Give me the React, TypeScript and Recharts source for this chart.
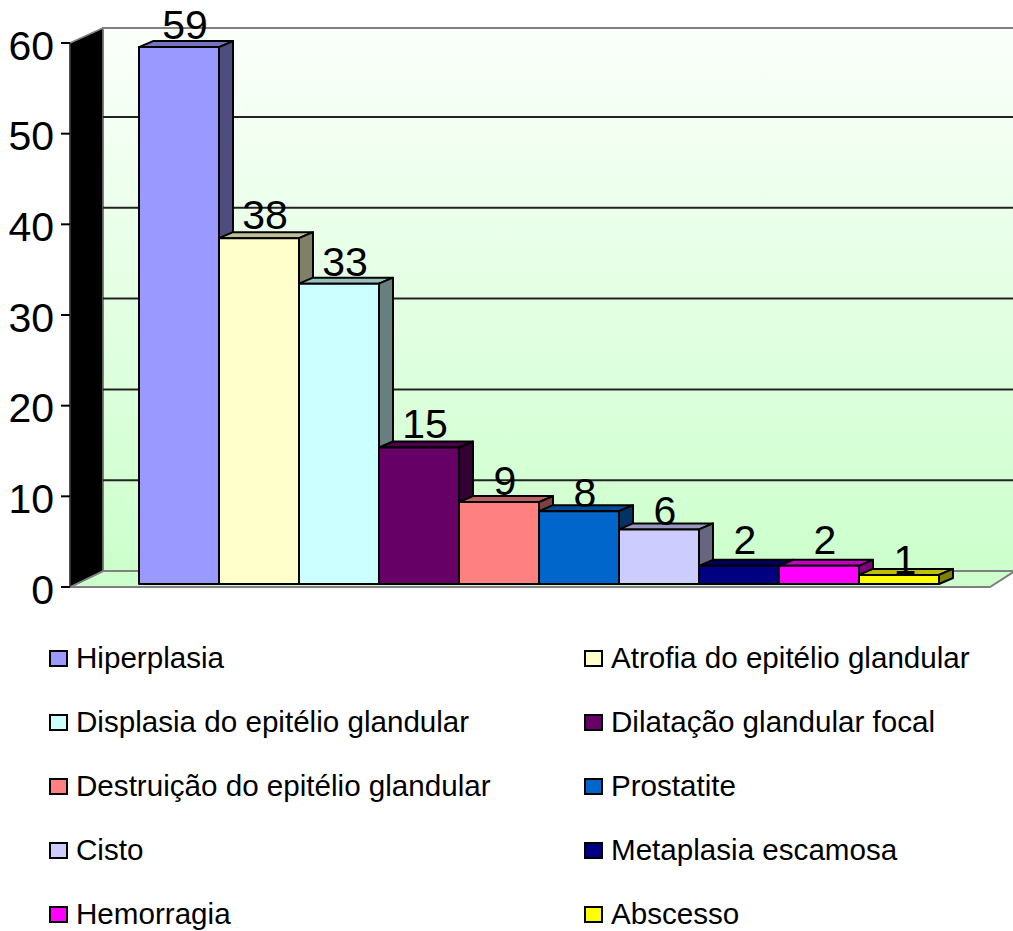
import React from 'react';
import { ComposedChart, Bar, Line, XAxis, YAxis, CartesianGrid, Legend, LabelList } from 'recharts';

const categories = [
  'Hiperplasia',
  'Atrofia do epitélio glandular',
  'Displasia do epitélio glandular',
  'Dilatação glandular focal',
  'Destruição do epitélio glandular',
  'Prostatite',
  'Cisto',
  'Metaplasia escamosa',
  'Hemorragia',
  'Abscesso',
];
const values = [59, 38, 33, 15, 9, 8, 6, 2, 2, 1];
const colors = [
  '#9999FF', '#FFFFCC', '#CCFFFF', '#660066', '#FF8080',
  '#0066CC', '#CCCCFF', '#000080', '#FF00FF', '#FFFF00',
];
const axisTicks = [0, 10, 20, 30, 40, 50, 60];
const wallTicks = [10, 20, 30, 40, 50];
// small per-series nudges for the value labels
const labelShift = [-1, -2, -1, -2, 0, 3, 3, -5, -5, 6];

const row: Record<string, number> = {};
categories.forEach((c, i) => { row[c] = values[i]; });
const data = [row];

const FONT = '"Liberation Sans", Arial, sans-serif';
const DEPTH_X = 14;
const DEPTH_Y = 6;

const shade = (hex: string, k: number) => {
  const n = parseInt(hex.slice(1), 16);
  const ch = (v: number) => Math.round(v * k);
  return `rgb(${ch((n >> 16) & 255)},${ch((n >> 8) & 255)},${ch(n & 255)})`;
};

// front face plus the lit top and darker side of an extruded column
const Column = (props: any) => {
  const { x, y, width, height, fill } = props;
  const r = x + width;
  const b = y + height;
  return (
    <g stroke="#000" strokeWidth={2} strokeLinejoin="round">
      <polygon
        points={`${x},${y} ${x + DEPTH_X},${y - DEPTH_Y} ${r + DEPTH_X},${y - DEPTH_Y} ${r},${y}`}
        fill={shade(fill, 0.75)}
      />
      <polygon
        points={`${r},${y} ${r + DEPTH_X},${y - DEPTH_Y} ${r + DEPTH_X},${b - DEPTH_Y} ${r},${b}`}
        fill={shade(fill, 0.5)}
      />
      <rect x={x} y={y} width={width} height={height} fill={fill} />
    </g>
  );
};

const ValueLabel = (props: any) => {
  const { x, y, width, value, shift } = props;
  return (
    <text x={x + width / 2 + 6} y={y - 7 + shift} textAnchor="middle" fontSize={41} fontFamily={FONT} fill="#000">
      {value}
    </text>
  );
};

const LegendGrid = ({ payload }: any) => (
  <div
    style={{
      display: 'grid',
      gridTemplateColumns: '535px 1fr',
      gridAutoRows: '64px',
      paddingLeft: 49,
      fontFamily: FONT,
      fontSize: 29.6,
      color: '#000',
    }}
  >
    {(payload || [])
      .filter((item: any) => item.type !== 'none')
      .map((item: any) => (
        <div key={item.value} style={{ display: 'flex', alignItems: 'center', whiteSpace: 'nowrap' }}>
          <span
            style={{
              display: 'inline-block',
              boxSizing: 'border-box',
              width: 19,
              height: 17,
              marginRight: 8,
              border: '2px solid #000',
              background: item.color,
            }}
          />
          {item.value}
        </div>
      ))}
  </div>
);

// back wall, floor and black side wall, sitting behind the transparent chart
const Walls = () => (
  <svg width={1013} height={931} style={{ position: 'absolute', left: 0, top: 0 }}>
    <defs>
      <linearGradient id="wallFill" x1="0" y1="0" x2="0" y2="1">
        <stop offset="0" stopColor="#FBFFFB" />
        <stop offset="1" stopColor="#CCFFCC" />
      </linearGradient>
    </defs>
    <rect x={103} y={28} width={912} height={543} fill="url(#wallFill)" stroke="#808080" strokeWidth={2} />
    <polygon points="70,587 103,571 1015,571 990,587" fill="#CCFFCC" stroke="#808080" strokeWidth={2} />
    <polygon points="70,43 103,28 103,571 70,587" fill="#000" stroke="#808080" strokeWidth={1.5} />
  </svg>
);

const hiddenDot = { r: 0, stroke: 'none', fill: 'none' };

export default function App() {
  return (
    <div style={{ position: 'absolute', left: 0, top: 0, width: 1013, height: 931, background: '#fff' }}>
      <Walls />
      <div style={{ position: 'absolute', left: 0, top: 0 }}>
        <ComposedChart
          width={1013}
          height={931}
          data={data}
          margin={{ top: 43, right: 23, bottom: 344, left: 0 }}
          barGap={0}
          barCategoryGap={50}
        >
          <YAxis
            yAxisId="value"
            type="number"
            domain={[0, 60]}
            ticks={axisTicks}
            width={70}
            interval={0}
            tickSize={9}
            tickMargin={7}
            axisLine={{ stroke: '#000', strokeWidth: 1 }}
            tickLine={{ stroke: '#000', strokeWidth: 2 }}
            tick={{ fontSize: 41, fontFamily: FONT, fill: '#000', dy: 2 }}
          />
          <YAxis yAxisId="wall" type="number" domain={[-1.76, 58.15]} ticks={wallTicks} width={0} hide />
          <YAxis yAxisId="bars" type="number" domain={[-0.33, 59.45]} width={0} hide />
          <CartesianGrid
            yAxisId="wall"
            vertical={false}
            syncWithTicks
            x={103}
            width={910}
            stroke="#222"
            strokeWidth={2}
          />

          <XAxis
            dataKey={() => ''}
            padding={{ left: 19, right: 0 }}
            tick={false}
            tickLine={false}
            height={0}
            axisLine={{ stroke: '#222', strokeWidth: 2 }}
          />

          {/* unseen series so the two extra value axes get their ticks */}
          <Line yAxisId="wall" dataKey="Abscesso" stroke="none" dot={hiddenDot} legendType="none" isAnimationActive={false} />
          <Line yAxisId="value" dataKey="Abscesso" stroke="none" dot={hiddenDot} legendType="none" isAnimationActive={false} />

          {categories.map((name, i) => (
            <Bar
              key={name}
              yAxisId="bars"
              dataKey={name}
              fill={colors[i]}
              shape={Column}
              isAnimationActive={false}
            >
              <LabelList
                dataKey={name}
                content={(p: any) => <ValueLabel {...p} shift={labelShift[i]} />}
              />
            </Bar>
          ))}

          <Legend
            layout="vertical"
            align="center"
            verticalAlign="middle"
            itemSorter={null}
            content={LegendGrid}
            wrapperStyle={{ left: 0, top: 626, width: 1013 }}
          />
        </ComposedChart>
      </div>
    </div>
  );
}
